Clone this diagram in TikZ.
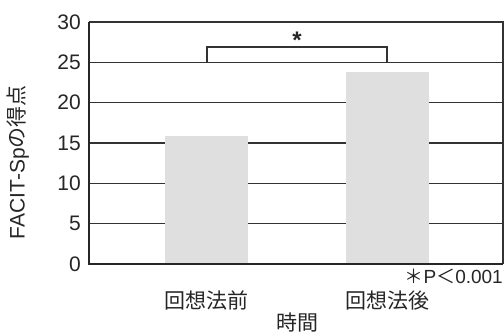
\documentclass[tikz,border=0pt]{standalone}
\usepackage{fontspec}
\setmainfont{Liberation Sans}
\newfontfamily\jp{Noto Sans CJK JP}

\tikzset{
  gridline/.style={line width=1.4pt, black!80},
  axisline/.style={line width=1.8pt, black!85},
  barbox/.style={fill=gray!25, draw=none},
  ticklabel/.style={anchor=east, inner sep=0pt, text=black!85, font=\fontsize{21}{23}\selectfont},
  catlabel/.style={inner sep=0pt, text=black!85, font=\jp\fontsize{21}{23}\selectfont}
}

\begin{document}
\begin{tikzpicture}[x=1pt,y=1pt]
  \useasboundingbox (0,0) rectangle (504,334);
  \begin{scope}[yshift=70pt, y=8.07pt]
  % Grid lines
  \foreach \v in {5,10,15,20,25}
    \draw[gridline] (89,\v) -- (503,\v);

  % Bars
  \fill[barbox] (165,0) rectangle (248,15.8);
  \fill[barbox] (346,0) rectangle (429,23.8);

  % Frame
  \draw[gridline] (89,30) -- (503,30) -- (503,0);
  \draw[axisline] (89,30) -- (89,0) -- (503,0);

  % Tick labels
  \foreach \v in {0,5,...,30}
    \node[ticklabel] (t\v) at (81,\v) {\v};

  % Significance bracket
  \coordinate (b1) at (207,25);
  \coordinate (b2) at (387,25);
  \draw[line width=1.2pt, black!80] (b1) -- ++(0,1.9) -| (b2);
  \node[font=\bfseries\fontsize{24}{26}\selectfont, text=black!85, inner sep=0pt] (star) at (297,27.7) {*};

  % Labels
  \node[ticklabel, anchor=center, rotate=90] (ylab) at (18,12.6)
    {FACIT-Sp{\jp の得点}};
  \node[catlabel] (pre) at (206,-4.5) {回想法前};
  \node[catlabel] (post) at (387,-4.5) {回想法後};
  \node[catlabel] (time) at (297,-7.3) {時間};
  \node[anchor=east, inner sep=0pt, text=black!85, font=\fontsize{19}{21}\selectfont] (pval) at (503,-1.5)
    {{\jp ＊}P{\jp ＜}0.001};
  \end{scope}
\end{tikzpicture}
\end{document}
